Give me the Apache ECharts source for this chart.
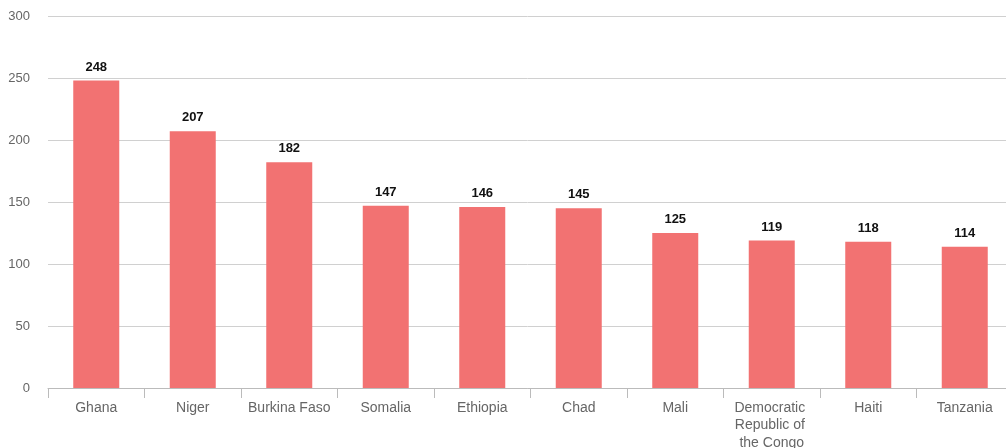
<!DOCTYPE html>
<html><head><meta charset="utf-8">
<script src="https://cdn.jsdelivr.net/npm/echarts@6/dist/echarts.min.js"></script>
<style>html,body{margin:0;padding:0;background:#fff}#c{width:1006px;height:448px}</style>
</head><body><div id="c"></div>
<script>
var categories = ["Ghana","Niger","Burkina Faso","Somalia","Ethiopia","Chad","Mali","Democratic Republic of the Congo","Haiti","Tanzania"];
var values = [248,207,182,147,146,145,125,119,118,114];
var yTicks = {min:0,max:300,interval:50};
var chart = echarts.init(document.getElementById('c'));
chart.setOption({
  animation:false,
  grid:{left:48,right:-7,top:16,bottom:60,containLabel:false,outerBoundsMode:'none'},
  xAxis:{type:'category',data:categories,
    axisLine:{show:true,lineStyle:{color:'#bbbbbb'}},
    axisTick:{show:true,length:10,alignWithLabel:false,interval:0,lineStyle:{color:'#bbbbbb'}},
    axisLabel:{color:'#666666',fontFamily:'Liberation Sans, Arial, sans-serif',fontSize:14,margin:11,interval:0,width:84,overflow:'break',lineHeight:17.5}},
  yAxis:{type:'value',min:yTicks.min,max:yTicks.max,interval:yTicks.interval,
    axisLine:{show:false},axisTick:{show:false},
    splitLine:{lineStyle:{color:'#d0d0d0'}},
    axisLabel:{color:'#666666',fontFamily:'Liberation Sans, Arial, sans-serif',fontSize:13,margin:18}},
  series:[{type:'bar',data:values,barWidth:46,
    itemStyle:{color:'#f27272'},
    label:{show:true,position:'top',distance:7,color:'#111',fontWeight:'bold',fontFamily:'Liberation Sans, Arial, sans-serif',fontSize:13}}]
});
</script></body></html>
